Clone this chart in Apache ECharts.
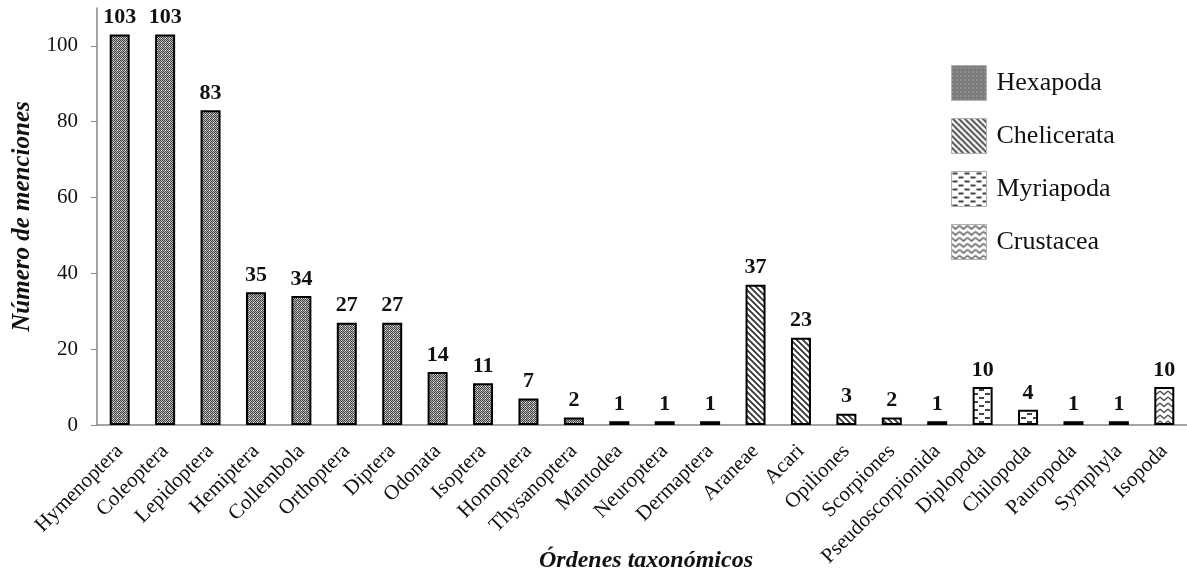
<!DOCTYPE html>
<html>
<head>
<meta charset="utf-8">
<script src="https://cdn.jsdelivr.net/npm/echarts@6/dist/echarts.min.js"></script>
<style>html,body{margin:0;padding:0;background:#fff;}#c{width:1187px;height:581px;}</style>
</head>
<body>
<div id="c"></div>
<script>
const categories = ['Hymenoptera','Coleoptera','Lepidoptera','Hemiptera','Collembola','Orthoptera','Diptera','Odonata','Isoptera','Homoptera','Thysanoptera','Mantodea','Neuroptera','Dermaptera','Araneae','Acari','Opiliones','Scorpiones','Pseudoscorpionida','Diplopoda','Chilopoda','Pauropoda','Symphyla','Isopoda'];
const hexapoda    = [103,103,83,35,34,27,27,14,11,7,2,1,1,1,'-','-','-','-','-','-','-','-','-','-'];
const chelicerata = ['-','-','-','-','-','-','-','-','-','-','-','-','-','-',37,23,3,2,1,'-','-','-','-','-'];
const myriapoda   = ['-','-','-','-','-','-','-','-','-','-','-','-','-','-','-','-','-','-','-',10,4,1,1,'-'];
const crustacea   = ['-','-','-','-','-','-','-','-','-','-','-','-','-','-','-','-','-','-','-','-','-','-','-',10];
const yTicks = [0,20,40,60,80,100];
const seriesNames = ['Hexapoda','Chelicerata','Myriapoda','Crustacea'];

function makeCanvas(w,h,draw){const c=document.createElement('canvas');c.width=w;c.height=h;const g=c.getContext('2d');g.fillStyle='#fff';g.fillRect(0,0,w,h);draw(g);return c;}
const patHex = makeCanvas(4,4,g=>{for(let x=0;x<4;x++)for(let y=0;y<4;y++){g.fillStyle=((x+y)%2===0)?'#444':'#b5b5b5';if(x%4===1&&y%4===2)g.fillStyle='#fff';g.fillRect(x,y,1,1);}});
const patChel = makeCanvas(6,6,g=>{for(let x=0;x<6;x++)for(let y=0;y<6;y++){const d=((x-y)%6+6)%6;if(d<3){g.fillStyle=d===1?'#333':'#6a6a6a';g.fillRect(x,y,1,1);}}});
const patMyr = makeCanvas(12,8,g=>{g.fillStyle='#444';g.fillRect(1,1,5,2);g.fillRect(7,5,5,2);});
const patCrus = makeCanvas(8,6,g=>{g.strokeStyle='#555';g.lineWidth=1.4;g.beginPath();g.moveTo(0,1);g.lineTo(4,4.5);g.lineTo(8,1);g.stroke();});
const pats=[patHex,patChel,patMyr,patCrus];
const datas=[hexapoda,chelicerata,myriapoda,crustacea];

const serif = '"Liberation Serif","Times New Roman",serif';
const chart = echarts.init(document.getElementById('c'));
chart.setOption({
  animation:false,
  backgroundColor:'#fff',
  grid:{left:97,right:0,top:8,bottom:156,containLabel:false},
  legend:{
    orient:'vertical', left:951, top:65, padding:0, itemWidth:35, itemHeight:35, itemGap:17,
    icon:'rect',
    itemStyle:{borderColor:'#b0b0b0',borderWidth:1},
    textStyle:{fontFamily:serif,fontSize:26,color:'#111',padding:[0,0,0,5]},
    data:seriesNames
  },
  xAxis:{
    type:'category', data:categories,
    axisLine:{lineStyle:{color:'#868686',width:1.5}},
    axisTick:{show:false},
    axisLabel:{rotate:45,interval:0,fontFamily:serif,fontSize:21,color:'#111',margin:23}
  },
  yAxis:{
    type:'value', min:0, max:110, interval:10,
    name:'Número de menciones', nameLocation:'middle', nameGap:62,
    nameTextStyle:{fontFamily:serif,fontSize:25,fontWeight:'bold',fontStyle:'italic',color:'#111'},
    axisLine:{show:true,lineStyle:{color:'#868686',width:1.5}},
    axisTick:{show:true,length:6,lineStyle:{color:'#868686'},customValues:yTicks},
    axisLabel:{fontFamily:serif,fontSize:21,color:'#111',margin:19,customValues:yTicks},
    splitLine:{show:false}
  },
  graphic:[{type:'text',x:646,y:561,style:{text:'Órdenes taxonómicos',font:'italic bold 24px '+serif,fill:'#111',textAlign:'center',textVerticalAlign:'middle'}}],
  series:datas.map((d,i)=>({
    name:seriesNames[i], type:'bar', stack:'all', data:d, barWidth:20,
    itemStyle:{color:{image:pats[i],repeat:'repeat'},borderColor:'#000',borderWidth:2},
    label:{show:true,position:'top',distance:6,fontFamily:serif,fontSize:22,fontWeight:'bold',color:'#111'}
  }))
});
</script>
</body>
</html>
